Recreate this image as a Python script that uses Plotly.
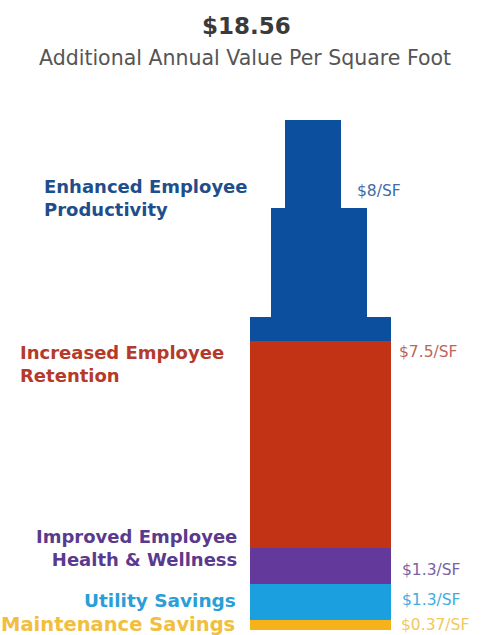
import plotly.graph_objects as go

# ---- data ----
categories = ["Maintenance Savings", "Utility Savings", "Improved Employee<br>Health & Wellness",
              "Increased Employee<br>Retention", "Enhanced Employee<br>Productivity"]
values = [0.37, 1.3, 1.3, 7.5, 8.0]
value_labels = ["$0.37/SF", "$1.3/SF", "$1.3/SF", "$7.5/SF", "$8/SF"]
total_label = "$18.56"
subtitle = "Additional Annual Value Per Square Foot"

# ---- styling ----
bar_colors = ["#F6B21A", "#1B9FDF", "#633A9C", "#C23214", "#0C4F9E"]
label_colors = ["#F2BE3C", "#2A9ED6", "#5A3A8E", "#B53A2A", "#1F4E8C"]
value_colors = ["#F3C85A", "#3FADE0", "#7A62A2", "#C0645A", "#3F6BA6"]

# building-shaped top segment (shares of height, relative widths, center shifts)
tier_share = [0.11, 0.49, 0.40]
tier_width = [1.0, 0.68, 0.40]
tier_shift = [0.0, -0.013, -0.053]

W, H = 499, 635
TOP, BOT = 120, 630
total = sum(values)

fig = go.Figure()
base = 0.0
for i, v in enumerate(values[:-1]):
    fig.add_trace(go.Bar(x=[0], y=[v], base=[base], width=1.0, offset=-0.5,
                         marker=dict(color=bar_colors[i], line=dict(width=0)),
                         hoverinfo="skip", showlegend=False))
    base += v
v = values[-1]
for share, w, s in zip(tier_share, tier_width, tier_shift):
    h = v * share
    fig.add_trace(go.Bar(x=[0], y=[h], base=[base], width=w, offset=-w / 2 + s,
                         marker=dict(color=bar_colors[-1], line=dict(width=0)),
                         hoverinfo="skip", showlegend=False))
    base += h

px_per_unit = 141.0
center_px = 320.5


def px(x):
    return x / W


def py(y):
    return (BOT - y) / (BOT - TOP)


ann = []
ann.append(dict(text="<b>" + total_label + "</b>", x=px(246), y=py(26), xref="paper", yref="paper",
                xanchor="center", yanchor="middle", showarrow=False,
                font=dict(family="DejaVu Sans", size=23, color="#3a3a3a")))
ann.append(dict(text=subtitle, x=px(245), y=py(58), xref="paper", yref="paper",
                xanchor="center", yanchor="middle", showarrow=False,
                font=dict(family="DejaVu Sans", size=20.5, color="#555555")))

# left category labels: (x px, y px, anchor)
left_pos = [(237, 624, "right"), (238, 600, "right"), (239, 548, "right"),
            (18, 364, "left"), (42, 198, "left")]
left_sizes = [19.5, 18.5, 18, 18, 18]
for i, (x, y, a) in enumerate(left_pos):
    ann.append(dict(text="<b>" + categories[i] + "</b>", x=px(x), y=py(y), xref="paper", yref="paper",
                    xanchor=a, yanchor="middle", align=a, showarrow=False,
                    font=dict(family="DejaVu Sans", size=left_sizes[i], color=label_colors[i])))

right_pos = [(399, 625), (400, 600), (400, 570), (397, 352), (355, 191)]
for i, (x, y) in enumerate(right_pos):
    ann.append(dict(text=value_labels[i], x=px(x), y=py(y), xref="paper", yref="paper",
                    xanchor="left", yanchor="middle", showarrow=False,
                    font=dict(family="DejaVu Sans", size=15.5, color=value_colors[i])))

fig.update_layout(
    width=W, height=H,
    margin=dict(l=0, r=0, t=TOP, b=H - BOT),
    paper_bgcolor="white", plot_bgcolor="white",
    barmode="overlay", bargap=0,
    xaxis=dict(range=[-center_px / px_per_unit, (W - center_px) / px_per_unit], visible=False, fixedrange=True),
    yaxis=dict(range=[0, total], visible=False, fixedrange=True),
    annotations=ann,
    showlegend=False,
)

fig.write_html("out.html", config={"displayModeBar": False},
               post_script="document.body.style.margin='0';document.body.style.overflow='hidden';")
